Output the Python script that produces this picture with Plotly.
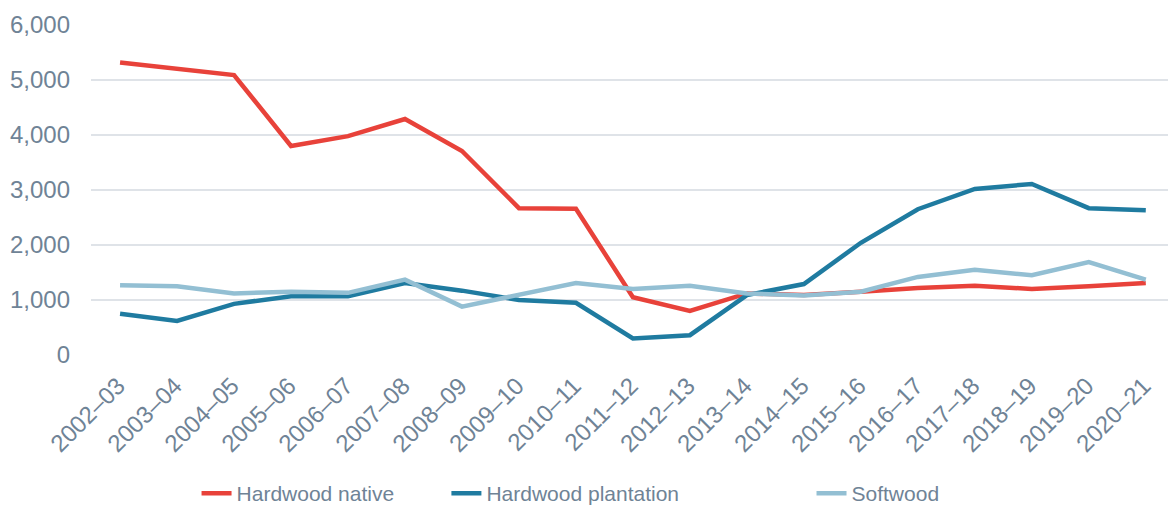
import plotly.graph_objects as go

years = ["2002–03", "2003–04", "2004–05", "2005–06", "2006–07", "2007–08",
         "2008–09", "2009–10", "2010–11", "2011–12", "2012–13", "2013–14",
         "2014–15", "2015–16", "2016–17", "2017–18", "2018–19", "2019–20",
         "2020–21"]

hardwood_native = [5320, 5210, 5090, 3800, 3980, 4290, 3710, 2670, 2660, 1050,
                   800, 1120, 1090, 1150, 1220, 1260, 1200, 1250, 1310]
hardwood_plantation = [750, 620, 930, 1070, 1070, 1310, 1170, 1000, 950, 300,
                       360, 1090, 1290, 2040, 2650, 3020, 3110, 2670, 2630]
softwood = [1270, 1250, 1120, 1150, 1130, 1370, 880, 1100, 1310, 1200,
            1260, 1120, 1080, 1150, 1420, 1550, 1450, 1690, 1370]

# name, values, colour, legend id, legend x (paper)
series = [
    ("Hardwood native", hardwood_native, "#E8423A", "legend", 0.098),
    ("Hardwood plantation", hardwood_plantation, "#1F7BA0", "legend2", 0.330),
    ("Softwood", softwood, "#93BFD3", "legend3", 0.669),
]

text_color = "#6F8396"
font_family = "Liberation Sans, Arial, sans-serif"

fig = go.Figure()
legend_layout = {}
for name, values, color, legend_id, lx in series:
    fig.add_trace(go.Scatter(
        x=years, y=values, name=name, mode="lines",
        line=dict(color=color, width=4.5), legend=legend_id,
    ))
    legend_layout[legend_id] = dict(
        orientation="h", x=lx, xanchor="left",
        yref="container", y=0.065, yanchor="top",
        font=dict(size=21, color=text_color), bgcolor="rgba(0,0,0,0)",
    )

fig.update_layout(
    width=1168, height=506,
    margin=dict(l=91, r=0, t=25, b=151),
    paper_bgcolor="white", plot_bgcolor="white",
    font=dict(family=font_family, color=text_color),
    showlegend=True,
    **legend_layout,
    xaxis=dict(
        type="category", range=[-0.51, 18.39], automargin=False,
        tickangle=-45, tickfont=dict(size=24, color=text_color),
        ticklabelshift=-2, ticklabelstandoff=11,
        showgrid=False, showline=False, ticks="",
    ),
    yaxis=dict(
        range=[0, 6000], tickvals=[0, 1000, 2000, 3000, 4000, 5000, 6000],
        tickformat=",", tickfont=dict(size=24, color=text_color),
        showgrid=True, gridcolor="#DFE3E8", gridwidth=1.5, automargin=False,
        zeroline=False, showline=False, ticks="", ticklabelstandoff=20,
    ),
)

fig.write_html("out.html")
